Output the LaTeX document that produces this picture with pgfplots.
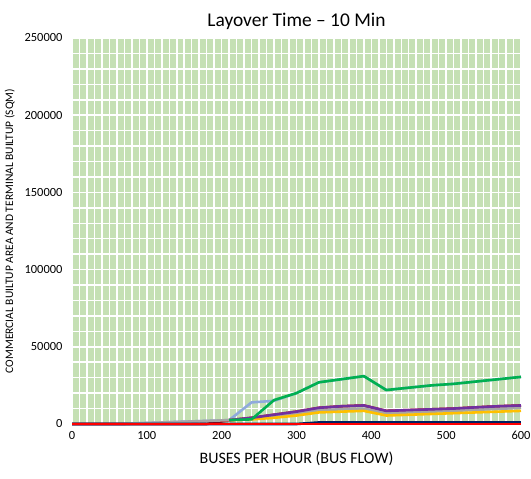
\documentclass[border=0pt]{standalone}
\usepackage{fontspec}
\setmainfont{Carlito}
\usepackage{pgfplots}
\pgfplotsset{compat=1.18}

\definecolor{plotbg}{RGB}{197,224,180}
\definecolor{sgreen}{RGB}{0,176,80}
\definecolor{spurple}{RGB}{112,48,160}
\definecolor{sgray}{RGB}{165,165,165}
\definecolor{syellow}{RGB}{255,192,0}
\definecolor{sblue}{RGB}{143,170,220}
\definecolor{sdred}{RGB}{192,0,0}
\definecolor{snavy}{RGB}{0,32,96}
\definecolor{sred}{RGB}{255,0,0}

\begin{document}
\begin{tikzpicture}
\path[use as bounding box] (0,0) rectangle (531bp,479bp);
\begin{axis}[
    at={(72bp,55bp)}, anchor=south west,
    scale only axis,
    width=449bp, height=386bp,
    xmin=0, xmax=600, ymin=0, ymax=250000,
    xtick={0,100,...,600},
    ytick={0,50000,...,250000},
    minor x tick num=9,
    minor y tick num=4,
    scaled ticks=false,
    /pgf/number format/fixed,
    /pgf/number format/1000 sep={},
    /pgf/number format/assume math mode=true,
    axis background/.style={fill=plotbg},
    axis line style={draw=none},
    major tick length=0pt, minor tick length=0pt,
    grid=both,
    major grid style={white, line width=1.5bp},
    minor grid style={white, line width=1.5bp},
    tick label style={font=\fontsize{12.5}{15}\selectfont, black},
    yticklabel style={xshift=-6bp},
    xticklabel style={yshift=-4bp},
    title={Layover Time – 10 Min},
    title style={font=\fontsize{19.5}{23}\selectfont, yshift=-1bp},
    xlabel={BUSES PER HOUR (BUS FLOW)},
    xlabel style={font=\fontsize{16}{19}\selectfont, yshift=-5bp},
    ylabel={COMMERCIAL BUILTUP AREA AND TERMINAL BUILTUP (SQM)},
    ylabel style={font=\fontsize{11.5}{14}\selectfont, yshift=3bp},
    clip=false,
    every axis plot/.append style={line width=2.6bp, line join=round},
]
% light blue
\addplot[sblue] coordinates {
(0,0)(30,0)(70,0)(90,500)(120,1000)(150,1500)(180,2000)(210,2500)(240,14000)(270,15000)
(300,20000)(330,27000)(360,29000)(390,31000)(420,22000)(450,23500)(480,25000)(510,26000)(540,27500)(570,29000)(600,30500)};
% dark red
\addplot[sdred] coordinates {
(0,0)(30,0)(60,0)(90,0)(120,0)(150,0)(180,0)(210,2500)(240,4000)(270,6000)
(300,8000)(330,10500)(360,11500)(390,12000)(420,8500)(450,9000)(480,9500)(510,10000)(540,10800)(570,11500)(600,12000)};
% gray
\addplot[sgray] coordinates {
(70,0)(90,500)(120,1000)(150,1500)(180,2000)(210,2500)(240,3500)(270,5000)
(300,7000)(330,9000)(360,9500)(390,10000)(420,7000)(450,7500)(480,8000)(510,8500)(540,9200)(570,9800)(600,10500)};
% yellow
\addplot[syellow] coordinates {
(210,2500)(240,3000)(270,4000)
(300,5500)(330,7500)(360,8000)(390,8500)(420,5500)(450,6000)(480,6500)(510,7000)(540,7500)(570,8000)(600,8500)};
% purple
\addplot[spurple] coordinates {
(210,2500)(240,4000)(270,6000)
(300,8000)(330,10500)(360,11500)(390,12000)(420,8500)(450,9000)(480,9500)(510,10000)(540,10800)(570,11500)(600,12000)};
% green
\addplot[sgreen] coordinates {
(210,2500)(240,3000)(270,15500)
(300,20000)(330,27000)(360,29000)(390,31000)(420,22000)(450,23500)(480,25000)(510,26000)(540,27500)(570,29000)(600,30500)};
% navy
\addplot[snavy] coordinates {
(0,0)(300,0)(330,1000)(360,1000)(390,1000)(420,1000)(450,1000)(480,1000)(510,1000)(540,1000)(570,1000)(600,1000)};
% red
\addplot[sred] coordinates {
(0,0)(100,0)(200,0)(300,0)(400,0)(500,0)(600,0)};
\end{axis}
\end{tikzpicture}
\end{document}
